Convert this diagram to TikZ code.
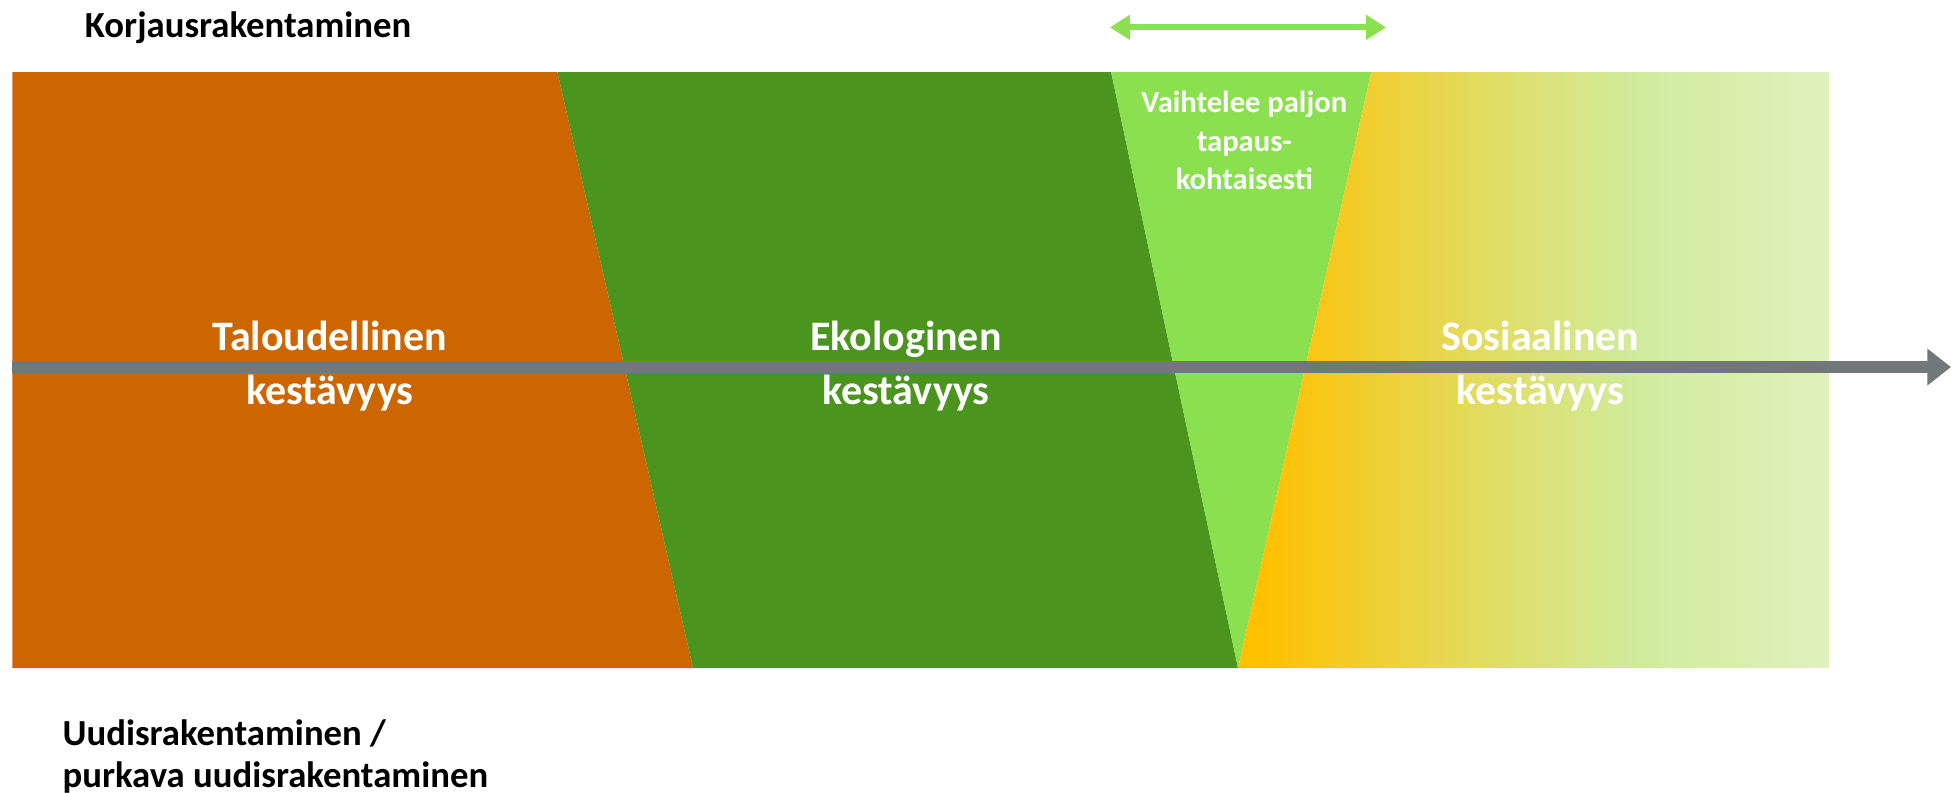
\documentclass[tikz,border=0pt]{standalone}
\usepackage{fontspec}
\setmainfont{Carlito}
\usetikzlibrary{arrows.meta}
\definecolor{econ}{HTML}{CC6600}
\definecolor{ecol}{HTML}{4B941D}
\definecolor{vary}{HTML}{8BE04F}
\definecolor{axisgray}{HTML}{72777A}
\definecolor{socA}{HTML}{FFC000}
\definecolor{socB}{HTML}{E2DC60}
\definecolor{socC}{HTML}{D0EC9E}
\definecolor{socD}{HTML}{E0F1BD}
% path box maps to 25bp--75bp
\pgfdeclarehorizontalshading{socgrad}{100bp}{color(0bp)=(socA); color(27bp)=(socA); color(45.5bp)=(socB); color(59bp)=(socC); color(75bp)=(socD); color(100bp)=(socD)}

\begin{document}
\begin{tikzpicture}[x=0.25mm,y=-0.25mm,
 biglabel/.style={text=white,font=\bfseries\fontsize{24}{31}\selectfont,align=center,inner sep=0pt},
 varlabel/.style={text=white,font=\bfseries\fontsize{17.5}{22}\selectfont,align=center,inner sep=0pt},
 sidelabel/.style={text=black,font=\bfseries\fontsize{21}{23.5}\selectfont,align=left,anchor=west,inner sep=0pt},
 axisline/.style={draw=axisgray,line width=2.35mm,-{Triangle[length=4.75mm,width=7.1mm]}},
 rangeline/.style={draw=vary,line width=1.25mm,{Triangle[length=4mm,width=4.75mm]}-{Triangle[length=4mm,width=4.75mm]}}]
\useasboundingbox (0,0) rectangle (1568,637);
% band corners and zone borders
\coordinate (tl) at (10,58);
\coordinate (bl) at (10,537);
\coordinate (tr) at (1470,58);
\coordinate (br) at (1470,537);
\coordinate (e1t) at (448,58);
\coordinate (e1b) at (557,537);
\coordinate (e2t) at (893,58);
\coordinate (e2b) at (995,537);
\coordinate (e3t) at (1102,58);
% zones
\fill[econ] (tl) -- (e1t) -- (e1b) -- (bl) -- cycle;
\fill[ecol] (e1t) -- (e2t) -- (e2b) -- (e1b) -- cycle;
\fill[vary] (e2t) -- (e3t) -- (e2b) -- cycle;
\shade[shading=socgrad] (e3t) -- (tr) -- (br) -- (e2b) -- cycle;
% axis
\coordinate (axisL) at (10,295);
\coordinate (axisR) at (1568,295);
\draw[axisline] (axisL) -- (axisR);
% range arrow
\coordinate (rangeL) at (892,22);
\coordinate (rangeR) at (1114,22);
\draw[rangeline] (rangeL) -- (rangeR);
% labels
\node[biglabel] (talous) at (265,294) {Taloudellinen\\kestävyys};
\node[biglabel] (ekolog) at (728,294) {Ekologinen\\kestävyys};
\node[biglabel] (sosiaal) at (1238,294) {Sosiaalinen\\kestävyys};
\node[varlabel] (vaihtelu) at (1000,113) {Vaihtelee paljon\\tapaus-\\kohtaisesti};
\node[sidelabel] (korjaus) at (68,22) {Korjausrakentaminen};
\node[sidelabel] (uudis) at (50,608) {Uudisrakentaminen /\\purkava uudisrakentaminen};
\end{tikzpicture}
\end{document}
